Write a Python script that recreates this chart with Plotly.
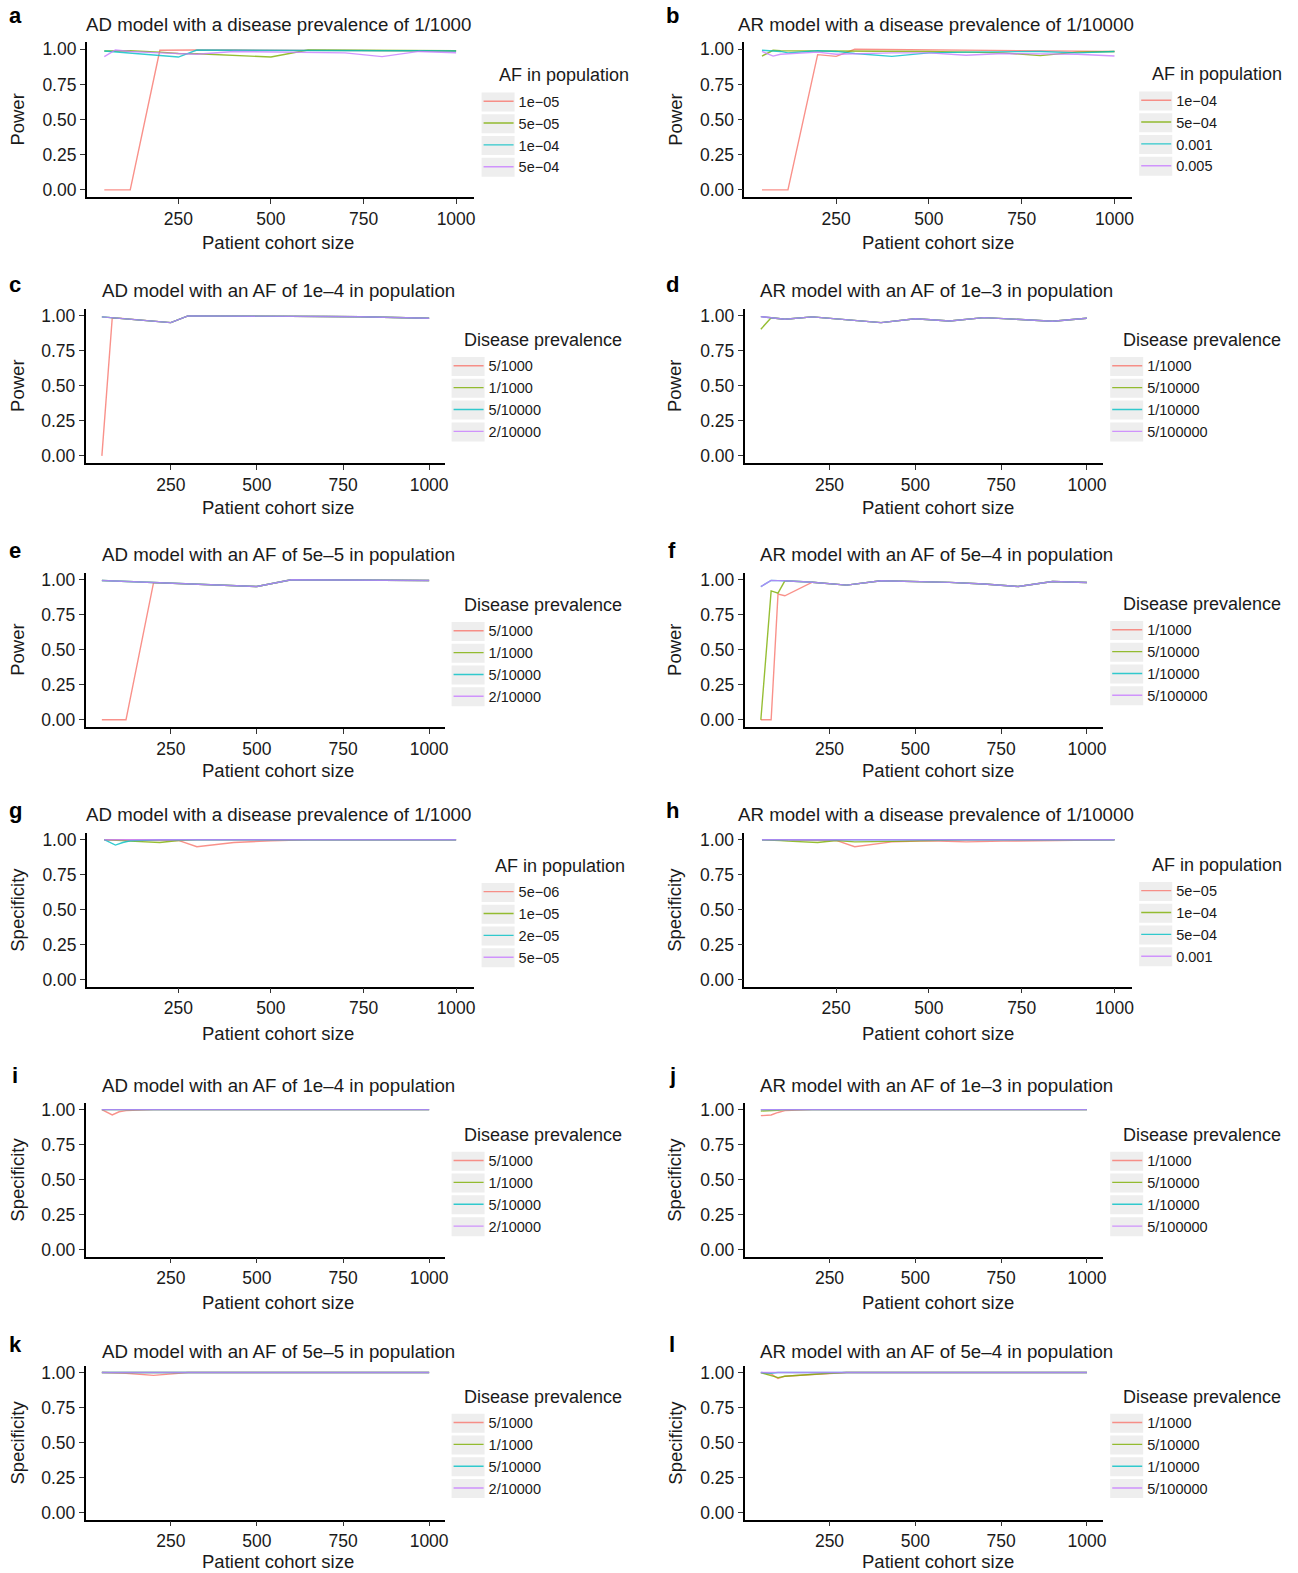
import plotly.graph_objects as go

W, H = 1298, 1573

# ---------------- data ----------------
X = [50, 80, 100, 120, 200, 250, 300, 400, 500, 600, 700, 800, 900, 1000]
x_ticks = [250, 500, 750, 1000]
y_ticks = [0, 0.25, 0.5, 0.75, 1.0]
y_tick_labels = ["0.00", "0.25", "0.50", "0.75", "1.00"]

af_labels_a = ["1e\u221205", "5e\u221205", "1e\u221204", "5e\u221204"]
af_labels_b = ["1e\u221204", "5e\u221204", "0.001", "0.005"]
af_labels_g = ["5e\u221206", "1e\u221205", "2e\u221205", "5e\u221205"]
af_labels_h = ["5e\u221205", "1e\u221204", "5e\u221204", "0.001"]
prev_labels_ad = ["5/1000", "1/1000", "5/10000", "2/10000"]
prev_labels_ar = ["1/1000", "5/10000", "1/10000", "5/100000"]

# a: AD power, prevalence 1/1000
a_s1 = [0, 0, 0, 0, 0.993, 0.995, 0.995, 0.995, 0.993, 0.993, 0.99, 0.99, 0.99, 0.988]
a_s2 = [0.988, 0.99, 0.99, 0.99, 0.98, 0.97, 0.968, 0.958, 0.945, 0.995, 0.995, 0.993, 0.993, 0.99]
a_s3 = [0.988, 0.981, 0.977, 0.973, 0.956, 0.945, 0.995, 0.993, 0.993, 0.99, 0.99, 0.99, 0.99, 0.988]
a_s4 = [0.948, 0.995, 0.99, 0.985, 0.975, 0.97, 0.965, 0.985, 0.983, 0.98, 0.975, 0.948, 0.985, 0.976]
# b: AR power, prevalence 1/10000
b_s1 = [0, 0, 0, 0, 0.962, 0.95, 1.0, 0.998, 0.995, 0.995, 0.993, 0.99, 0.99, 0.985]
b_s2 = [0.952, 0.993, 0.99, 0.99, 0.985, 0.985, 0.985, 0.99, 0.985, 0.98, 0.975, 0.955, 0.98, 0.985]
b_s3 = [0.993, 0.99, 0.985, 0.975, 0.99, 0.985, 0.97, 0.95, 0.975, 0.98, 0.985, 0.985, 0.975, 0.985]
b_s4 = [0.985, 0.952, 0.965, 0.968, 0.98, 0.965, 0.97, 0.975, 0.975, 0.958, 0.97, 0.97, 0.965, 0.952]
# c: AD power, AF 1e-4
c_s1 = [0, 0.983, 0.983, 0.979, 0.962, 0.952, 1.0, 1.0, 0.998, 0.997, 0.996, 0.994, 0.99, 0.983]
c_s2 = [0.993, 0.987, 0.983, 0.979, 0.962, 0.952, 1.0, 1.0, 0.998, 0.997, 0.996, 0.994, 0.99, 0.983]
c_s3 = [0.993, 0.987, 0.983, 0.979, 0.962, 0.952, 1.0, 1.0, 0.998, 0.997, 0.996, 0.994, 0.99, 0.983]
c_s4 = [0.993, 0.987, 0.983, 0.979, 0.962, 0.952, 1.0, 1.0, 0.998, 0.997, 0.996, 0.994, 0.99, 0.983]
# d: AR power, AF 1e-3
d_s1 = [0.995, 0.987, 0.981, 0.976, 0.993, 0.982, 0.972, 0.952, 0.98, 0.964, 0.988, 0.976, 0.962, 0.983]
d_s2 = [0.905, 0.987, 0.981, 0.976, 0.993, 0.982, 0.972, 0.952, 0.98, 0.964, 0.988, 0.976, 0.962, 0.983]
d_s3 = [0.995, 0.987, 0.981, 0.976, 0.993, 0.982, 0.972, 0.952, 0.98, 0.964, 0.988, 0.976, 0.962, 0.983]
d_s4 = [0.995, 0.987, 0.981, 0.976, 0.993, 0.982, 0.972, 0.952, 0.98, 0.964, 0.988, 0.976, 0.962, 0.983]
# e: AD power, AF 5e-5
e_s1 = [0, 0, 0, 0, 0.98, 0.975, 0.97, 0.961, 0.952, 1.0, 1.0, 1.0, 1.0, 0.995]
e_s2 = [0.995, 0.992, 0.99, 0.988, 0.98, 0.975, 0.97, 0.961, 0.952, 1.0, 1.0, 1.0, 1.0, 0.995]
e_s3 = [0.995, 0.992, 0.99, 0.988, 0.98, 0.975, 0.97, 0.961, 0.952, 1.0, 1.0, 1.0, 1.0, 0.995]
e_s4 = [0.995, 0.992, 0.99, 0.988, 0.98, 0.975, 0.97, 0.961, 0.952, 1.0, 1.0, 1.0, 1.0, 0.995]
# f: AR power, AF 5e-4
f_s1 = [0, 0, 0.898, 0.886, 0.983, 0.972, 0.962, 0.993, 0.99, 0.982, 0.97, 0.952, 0.988, 0.981]
f_s2 = [0, 0.921, 0.905, 0.993, 0.983, 0.972, 0.962, 0.993, 0.99, 0.982, 0.97, 0.952, 0.988, 0.981]
f_s3 = [0.952, 0.995, 0.994, 0.993, 0.983, 0.972, 0.962, 0.993, 0.99, 0.982, 0.97, 0.952, 0.988, 0.981]
f_s4 = [0.952, 0.995, 0.994, 0.993, 0.983, 0.972, 0.962, 0.993, 0.99, 0.982, 0.97, 0.952, 0.988, 0.981]
# g: AD specificity, prevalence 1/1000
g_s1 = [1.0, 1.0, 1.0, 1.0, 1.0, 0.995, 0.95, 0.98, 0.993, 1.0, 1.0, 1.0, 1.0, 1.0]
g_s2 = [1.0, 1.0, 0.995, 0.99, 0.98, 0.995, 1.0, 1.0, 1.0, 1.0, 1.0, 1.0, 1.0, 1.0]
g_s3 = [1.0, 0.962, 0.98, 0.993, 1.0, 1.0, 1.0, 1.0, 1.0, 1.0, 1.0, 1.0, 1.0, 1.0]
g_s4 = [1.0, 1.0, 1.0, 1.0, 1.0, 1.0, 1.0, 1.0, 1.0, 1.0, 1.0, 1.0, 1.0, 1.0]
# h: AR specificity, prevalence 1/10000
h_s1 = [1.0, 1.0, 1.0, 1.0, 1.0, 0.995, 0.95, 0.985, 0.993, 0.985, 0.99, 0.995, 1.0, 1.0]
h_s2 = [1.0, 1.0, 0.995, 0.99, 0.98, 0.995, 0.985, 0.988, 0.995, 1.0, 1.0, 1.0, 1.0, 1.0]
h_s3 = [1.0, 1.0, 1.0, 1.0, 1.0, 1.0, 1.0, 1.0, 1.0, 1.0, 1.0, 1.0, 1.0, 1.0]
h_s4 = [1.0, 1.0, 1.0, 1.0, 1.0, 1.0, 1.0, 1.0, 1.0, 1.0, 1.0, 1.0, 1.0, 1.0]
# i: AD specificity, AF 1e-4
i_s1 = [1.0, 0.962, 0.985, 0.993, 1.0, 1.0, 1.0, 1.0, 1.0, 1.0, 1.0, 1.0, 1.0, 1.0]
i_s2 = [1.0, 1.0, 1.0, 1.0, 1.0, 1.0, 1.0, 1.0, 1.0, 1.0, 1.0, 1.0, 1.0, 1.0]
i_s3 = [1.0, 1.0, 1.0, 1.0, 1.0, 1.0, 1.0, 1.0, 1.0, 1.0, 1.0, 1.0, 1.0, 1.0]
i_s4 = [1.0, 1.0, 1.0, 1.0, 1.0, 1.0, 1.0, 1.0, 1.0, 1.0, 1.0, 1.0, 1.0, 1.0]
# j: AR specificity, AF 1e-3
j_s1 = [0.957, 0.962, 0.98, 0.993, 1.0, 1.0, 1.0, 1.0, 1.0, 1.0, 1.0, 1.0, 1.0, 1.0]
j_s2 = [0.99, 0.99, 0.995, 1.0, 1.0, 1.0, 1.0, 1.0, 1.0, 1.0, 1.0, 1.0, 1.0, 1.0]
j_s3 = [1.0, 1.0, 1.0, 1.0, 1.0, 1.0, 1.0, 1.0, 1.0, 1.0, 1.0, 1.0, 1.0, 1.0]
j_s4 = [1.0, 1.0, 1.0, 1.0, 1.0, 1.0, 1.0, 1.0, 1.0, 1.0, 1.0, 1.0, 1.0, 1.0]
# k: AD specificity, AF 5e-5
k_s1 = [1.0, 1.0, 0.998, 0.995, 0.98, 0.992, 1.0, 1.0, 1.0, 1.0, 1.0, 1.0, 1.0, 1.0]
k_s2 = [1.0, 1.0, 1.0, 1.0, 1.0, 1.0, 1.0, 1.0, 1.0, 1.0, 1.0, 1.0, 1.0, 1.0]
k_s3 = [1.0, 1.0, 1.0, 1.0, 1.0, 1.0, 1.0, 1.0, 1.0, 1.0, 1.0, 1.0, 1.0, 1.0]
k_s4 = [1.0, 1.0, 1.0, 1.0, 1.0, 1.0, 1.0, 1.0, 1.0, 1.0, 1.0, 1.0, 1.0, 1.0]
# l: AR specificity, AF 5e-4
l_s1 = [1.0, 0.99, 0.957, 0.974, 0.986, 0.995, 1.0, 1.0, 1.0, 1.0, 1.0, 1.0, 1.0, 1.0]
l_s2 = [1.0, 0.976, 0.964, 0.974, 0.988, 0.995, 1.0, 1.0, 1.0, 1.0, 1.0, 1.0, 1.0, 1.0]
l_s3 = [1.0, 0.995, 1.0, 1.0, 1.0, 1.0, 1.0, 1.0, 1.0, 1.0, 1.0, 1.0, 1.0, 1.0]
l_s4 = [1.0, 1.0, 1.0, 1.0, 1.0, 1.0, 1.0, 1.0, 1.0, 1.0, 1.0, 1.0, 1.0, 1.0]

titles = {
    "a": "AD model with a disease prevalence of 1/1000",
    "b": "AR model with a disease prevalence of 1/10000",
    "c": "AD model with an AF of 1e\u20134 in population",
    "d": "AR model with an AF of 1e\u20133 in population",
    "e": "AD model with an AF of 5e\u20135 in population",
    "f": "AR model with an AF of 5e\u20134 in population",
    "g": "AD model with a disease prevalence of 1/1000",
    "h": "AR model with a disease prevalence of 1/10000",
    "i": "AD model with an AF of 1e\u20134 in population",
    "j": "AR model with an AF of 1e\u20133 in population",
    "k": "AD model with an AF of 5e\u20135 in population",
    "l": "AR model with an AF of 5e\u20134 in population",
}

# ---------------- style / layout ----------------
FONT = "Liberation Sans, Arial, Helvetica, sans-serif"
COLORS = ["rgba(248,118,109,0.8)", "rgba(124,174,0,0.8)",
          "rgba(0,191,196,0.8)", "rgba(199,124,255,0.8)"]
KEY_BG = "#EEEEEE"
ITEM_STEP = 21.85

# plot-area boxes in target pixels: x0, x1 / y_top, y_bottom
LW = (86.7, 473.6)     # left wide
LN = (85.5, 445.4)     # left narrow
RW = (744.2, 1131.9)   # right wide
RN = (744.4, 1103.0)   # right narrow
ROWS = [(41.3, 196.0), (308.0, 462.0), (572.0, 726.0),
        (832.0, 986.0), (1102.0, 1256.0), (1365.0, 1519.0)]
TITLE_Y = [24, 290, 554, 813.5, 1085, 1351]
XT_Y = [241.7, 506.5, 770, 1033, 1302, 1561]
LETTER_Y = [15, 284, 550, 810, 1075, 1344]

panels = [
    # letter, col, row, box, ylabel, legend title, labels, series, legend title x, text x, first item y
    ("a", 0, 0, LW, "Power", "AF in population", af_labels_a, [a_s1, a_s2, a_s3, a_s4], 497, 518.5, 103.3),
    ("b", 1, 0, RW, "Power", "AF in population", af_labels_b, [b_s1, b_s2, b_s3, b_s4], 1150, 1176, 102.3),
    ("c", 0, 1, LN, "Power", "Disease prevalence", prev_labels_ad, [c_s1, c_s2, c_s3, c_s4], 462, 488.5, 368),
    ("d", 1, 1, RN, "Power", "Disease prevalence", prev_labels_ar, [d_s1, d_s2, d_s3, d_s4], 1121, 1147, 368),
    ("e", 0, 2, LN, "Power", "Disease prevalence", prev_labels_ad, [e_s1, e_s2, e_s3, e_s4], 462, 488.5, 633),
    ("f", 1, 2, RN, "Power", "Disease prevalence", prev_labels_ar, [f_s1, f_s2, f_s3, f_s4], 1121, 1147, 632),
    ("g", 0, 3, LW, "Specificity", "AF in population", af_labels_g, [g_s1, g_s2, g_s3, g_s4], 493, 518.5, 894),
    ("h", 1, 3, RW, "Specificity", "AF in population", af_labels_h, [h_s1, h_s2, h_s3, h_s4], 1150, 1176, 893),
    ("i", 0, 4, LN, "Specificity", "Disease prevalence", prev_labels_ad, [i_s1, i_s2, i_s3, i_s4], 462, 488.5, 1163),
    ("j", 1, 4, RN, "Specificity", "Disease prevalence", prev_labels_ar, [j_s1, j_s2, j_s3, j_s4], 1121, 1147, 1163),
    ("k", 0, 5, LN, "Specificity", "Disease prevalence", prev_labels_ad, [k_s1, k_s2, k_s3, k_s4], 462, 488.5, 1425),
    ("l", 1, 5, RN, "Specificity", "Disease prevalence", prev_labels_ar, [l_s1, l_s2, l_s3, l_s4], 1121, 1147, 1425),
]

# small correction between target pixels and the captured page
SX, SY, OY = 0.9975, 0.9965, 2.0


def pxx(x):
    return (x / SX) / W


def pxy(y):
    return 1 - ((y - OY) / SY) / H


fig = go.Figure()
layout = dict(
    width=W, height=H, margin=dict(l=0, r=0, t=0, b=0),
    paper_bgcolor="white", plot_bgcolor="white",
    font=dict(family=FONT, color="#1a1a1a"),
    showlegend=True,
)
annotations = []
shapes = []

for n, (letter, col, row, box, ylab, ltitle, labels, series, ltx, txx, fy) in enumerate(panels, start=1):
    xa = "x" if n == 1 else f"x{n}"
    ya = "y" if n == 1 else f"y{n}"
    lg = "legend" if n == 1 else f"legend{n}"
    top, bot = ROWS[row]
    fy_c = fy - 2.3  # centre the slightly taller legend on the reference one
    for k in range(4):
        fig.add_trace(go.Scatter(
            x=X, y=series[k], mode="lines", name=labels[k],
            line=dict(color=COLORS[k], width=1.4),
            xaxis=xa, yaxis=ya, legend=lg, hoverinfo="skip",
        ))
        # light grey legend-key background (ggplot style)
        cy = fy_c + k * ITEM_STEP * SY
        shapes.append(dict(
            type="rect", xref="paper", yref="paper", layer="below",
            x0=pxx(txx - 37), x1=pxx(txx - 4), y0=pxy(cy + 9.5), y1=pxy(cy - 9.5),
            fillcolor=KEY_BG, line=dict(width=0),
        ))
    axis_common = dict(
        showline=True, linecolor="black", linewidth=1.5,
        ticks="outside", ticklen=5, tickwidth=1.2, tickcolor="#333333",
        showgrid=False, zeroline=False,
        tickfont=dict(family=FONT, size=17.5, color="#1a1a1a"),
    )
    layout["xaxis" if n == 1 else f"xaxis{n}"] = dict(
        axis_common, domain=[pxx(box[0]), pxx(box[1])], range=[2.5, 1047.5],
        tickvals=x_ticks, anchor=ya,
    )
    layout["yaxis" if n == 1 else f"yaxis{n}"] = dict(
        axis_common, domain=[pxy(bot), pxy(top)], range=[-0.05, 1.05],
        tickvals=y_ticks, ticktext=y_tick_labels, anchor=xa,
    )
    layout[lg] = dict(
        x=pxx(txx - 40), y=pxy(fy_c - 16.7), xanchor="left", yanchor="top",
        bgcolor="rgba(0,0,0,0)", borderwidth=0,
        font=dict(family=FONT, size=14.5, color="#1a1a1a"),
        itemwidth=30, itemclick=False, itemdoubleclick=False,
    )
    cx = 278 if col == 0 else 936
    annotations.append(dict(
        text=titles[letter], x=pxx(cx), y=pxy(TITLE_Y[row]), xref="paper", yref="paper",
        xanchor="center", yanchor="middle", showarrow=False,
        font=dict(family=FONT, size=18.7, color="#1a1a1a"),
    ))
    annotations.append(dict(
        text="Patient cohort size", x=pxx(278 if col == 0 else 938), y=pxy(XT_Y[row]),
        xref="paper", yref="paper", xanchor="center", yanchor="middle", showarrow=False,
        font=dict(family=FONT, size=18.5, color="#1a1a1a"),
    ))
    annotations.append(dict(
        text=ylab, x=pxx(18 if col == 0 else 675), y=pxy((top + bot) / 2),
        xref="paper", yref="paper", xanchor="center", yanchor="middle", showarrow=False,
        textangle=-90, font=dict(family=FONT, size=18.5, color="#1a1a1a"),
    ))
    annotations.append(dict(
        text=f"<b>{letter}</b>", x=pxx(15 if col == 0 else 672), y=pxy(LETTER_Y[row]),
        xref="paper", yref="paper", xanchor="center", yanchor="middle", showarrow=False,
        font=dict(family=FONT, size=22, color="black"),
    ))
    annotations.append(dict(
        text=ltitle, x=pxx(ltx), y=pxy(fy - 29), xref="paper", yref="paper",
        xanchor="left", yanchor="middle", showarrow=False,
        font=dict(family=FONT, size=18, color="#1a1a1a"),
    ))

layout["annotations"] = annotations
layout["shapes"] = shapes
fig.update_layout(**layout)
fig.write_html(
    "out.html",
    config={"displayModeBar": False},
    post_script="document.body.style.margin='0px';document.body.style.overflow='hidden';",
)
